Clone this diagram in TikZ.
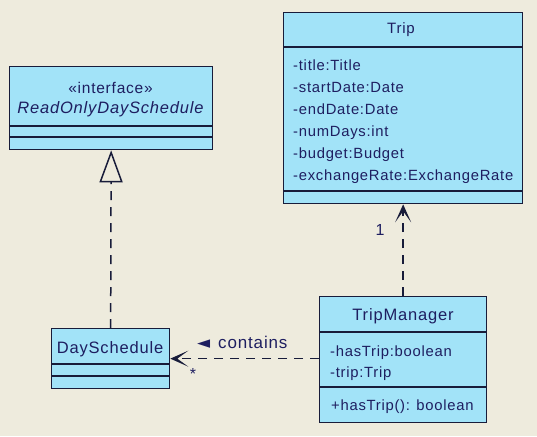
\documentclass[tikz,border=0pt]{standalone}
\usepackage{fontspec}
\setmainfont[LetterSpace=5]{Liberation Sans}
\newfontfamily\symfont{DejaVu Sans}
\usetikzlibrary{arrows.meta, positioning, calc}
\definecolor{umlbg}{RGB}{238,235,221}
\definecolor{umlfill}{RGB}{162,227,248}
\definecolor{umlline}{RGB}{24,28,58}
\definecolor{umltext}{RGB}{30,30,96}
\tikzset{
    umlclass/.style={rectangle, draw=umlline, fill=umlfill, line width=1.3pt, inner sep=0pt, anchor=north west},
    umlsep/.style={draw=umlline, line width=1.3pt},
    umlname/.style={font=\fontsize{16.5}{18}\selectfont, text=umltext, inner sep=0pt, anchor=base},
    umlattr/.style={font=\fontsize{14.8}{18}\selectfont, text=umltext, inner sep=0pt, anchor=base west},
    umldep/.style={draw=umlline, line width=1.5pt, dash pattern=on 9pt off 7pt, -{Stealth[length=18pt, width=16pt, inset=11pt]}},
    umlreal/.style={draw=umlline, line width=1.5pt, dash pattern=on 9pt off 7pt, -{Triangle[open, length=32pt, width=23pt, fill=umlbg]}},
    umlannot/.style={font=\fontsize{16}{18}\selectfont, text=umltext, inner sep=0pt}
}

\begin{document}
\begin{tikzpicture}[x=1pt, y=-1pt]

\fill[umlbg] (0,0) rectangle (537,436);
\useasboundingbox (0,0) rectangle (537,436);

% class boxes
\node[umlclass, minimum width=203pt, minimum height=83pt] (iface) at (9,66) {};
\node[umlclass, minimum width=239pt, minimum height=191pt] (trip) at (283,12) {};
\node[umlclass, minimum width=167pt, minimum height=126pt] (mgr) at (319,296) {};
\node[umlclass, minimum width=118pt, minimum height=60pt] (day) at (51,328) {};

% compartments
\foreach \cls/\off in {iface/60, iface/71, trip/35, trip/179, mgr/36, mgr/91, day/36, day/48}
    \draw[umlsep] ($(\cls.north west)+(0,\off)$) -- ($(\cls.north east)+(0,\off)$);

% interface
\node[umlname, font=\fontsize{15.5}{18}\selectfont] (ifacestereo) at (110.5,93) {«interface»};
\node[umlname, font=\fontsize{16.5}{18}\selectfont\itshape] (ifacename) at (110.5,113) {ReadOnlyDaySchedule};

% Trip
\node[umlname, font=\fontsize{15}{18}\selectfont] (tripname) at (401,34) {Trip};
\node[umlattr] (tripa1) at (293,70) {-title:Title};
\node[umlattr] (tripa2) at (293,92) {-startDate:Date};
\node[umlattr] (tripa3) at (293,114) {-endDate:Date};
\node[umlattr] (tripa4) at (293,136) {-numDays:int};
\node[umlattr] (tripa5) at (293,158) {-budget:Budget};
\node[umlattr] (tripa6) at (293,180) {-exchangeRate:ExchangeRate};

% TripManager
\node[umlname] (mgrname) at (403,320) {TripManager};
\node[umlattr] (mgra1) at (330,356) {-hasTrip:boolean};
\node[umlattr] (mgra2) at (330,377) {-trip:Trip};
\node[umlattr] (mgrm1) at (331,410) {+hasTrip(): boolean};

% DaySchedule
\node[umlname] (dayname) at (110,353) {DaySchedule};

% relations
\draw[umlreal] (day.north) -- (iface.south);
\draw[umldep] (mgr.north) -- (trip.south);
\draw[umldep] (mgr.west |- day.east) -- (day.east);

% labels
\node[umlannot, anchor=base] (onelbl) at (380,235) {1};
\node[umlannot] (manylbl) at (193,374) {*};
\node[umlannot, anchor=base west, font=\fontsize{17}{20}\selectfont] (containslbl) at (197,348) {\makebox[21pt][l]{\symfont\fontsize{17}{20}\selectfont ◄}contains};

\end{tikzpicture}
\end{document}
